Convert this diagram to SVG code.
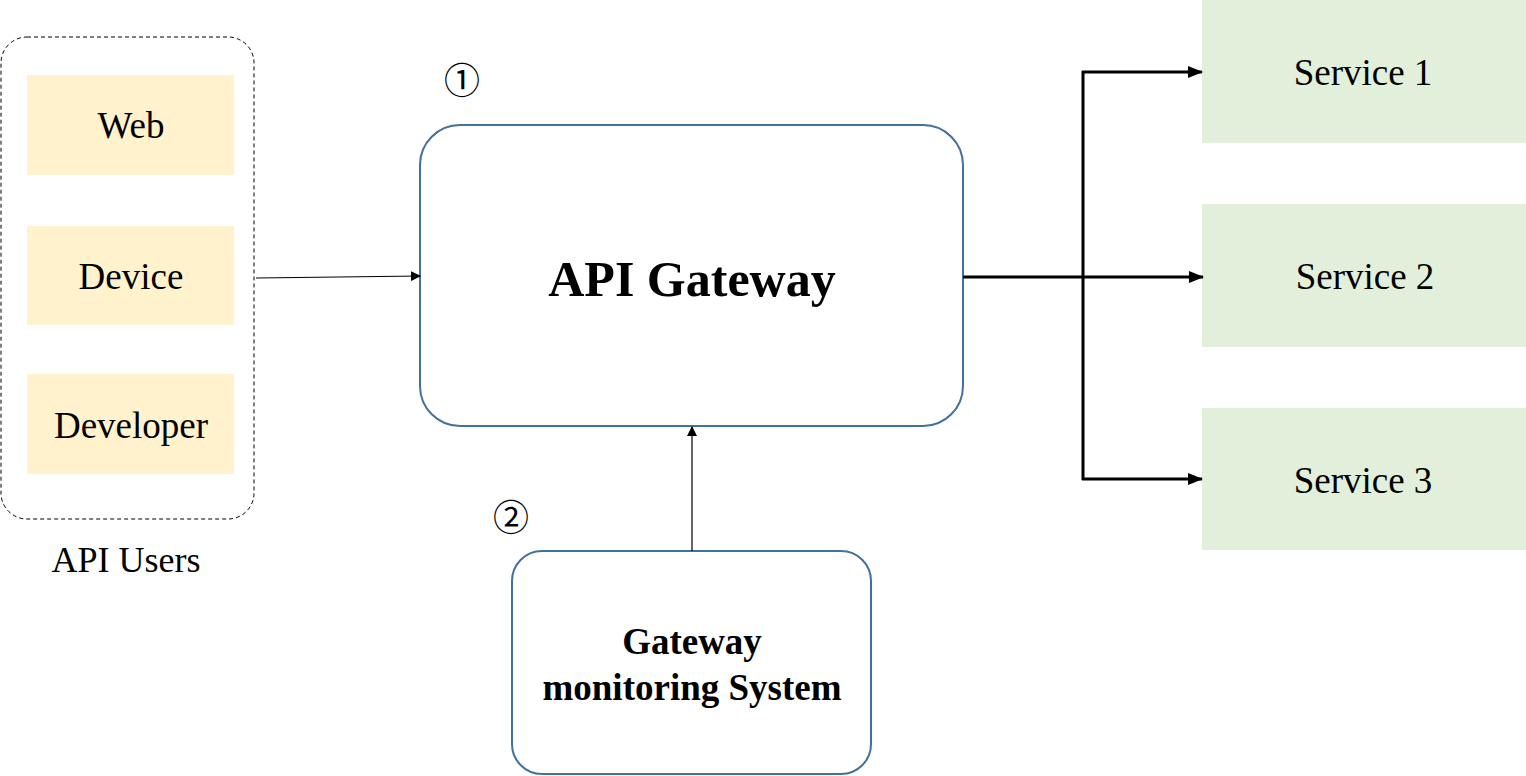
<svg xmlns="http://www.w3.org/2000/svg" width="1526" height="776" viewBox="0 0 1526 776">
<style>
.user{fill:#FFF2CC}
.svc{fill:#E2EFDA}
.rb{fill:#fff;stroke:#41719C;stroke-width:2}
.t{font-family:"Liberation Serif","Times New Roman",serif;fill:#000;text-anchor:middle;dominant-baseline:central}
.n{font-family:"Noto Sans CJK JP","DejaVu Sans",sans-serif;fill:#000;text-anchor:middle;dominant-baseline:central;font-size:36px}
.c1{stroke:#000;stroke-width:1.2;fill:none}
.c3{stroke:#000;stroke-width:3;fill:none}
</style>
<defs>
<marker id="ah" markerWidth="10" markerHeight="10" refX="9" refY="5" orient="auto" markerUnits="userSpaceOnUse">
<path d="M0,0 L10,5 L0,10 z" fill="#000"/>
</marker>
<marker id="ah2" markerWidth="15" markerHeight="12" refX="14" refY="6" orient="auto" markerUnits="userSpaceOnUse">
<path d="M0,0 L15,6 L0,12 z" fill="#000"/>
</marker>
</defs>
<rect width="1526" height="776" fill="#fff"/>
<g id="api-users">
<rect x="1" y="37" width="253" height="482" rx="26" fill="none" stroke="#000" stroke-width="1" stroke-dasharray="4,3"/>
<text class="t" x="126" y="560" font-size="36">API Users</text>
</g>
<g id="web"><rect class="user" x="27" y="75" width="207" height="100"/><text class="t" x="131" y="125" font-size="37">Web</text></g>
<g id="device"><rect class="user" x="27" y="226" width="207" height="99"/><text class="t" x="131" y="276" font-size="37">Device</text></g>
<g id="developer"><rect class="user" x="27" y="374" width="207" height="100"/><text class="t" x="131" y="425" font-size="37">Developer</text></g>
<g id="gateway">
<rect class="rb" x="420" y="125" width="543" height="301" rx="40"/>
<text class="t" x="692" y="279" font-size="50" font-weight="bold">API Gateway</text>
</g>
<g id="monitor">
<rect class="rb" x="512" y="551" width="359" height="223" rx="30"/>
<text class="t" x="692" y="641" font-size="37" font-weight="bold">Gateway</text>
<text class="t" x="692" y="687" font-size="37" font-weight="bold">monitoring System</text>
</g>
<g id="label1"><text class="n" x="462" y="78">①</text></g>
<g id="label2"><text class="n" x="511" y="515">②</text></g>
<g id="service1"><rect class="svc" x="1202" y="0" width="324" height="143"/><text class="t" x="1363" y="72" font-size="37">Service 1</text></g>
<g id="service2"><rect class="svc" x="1202" y="204" width="324" height="143"/><text class="t" x="1365" y="276" font-size="37">Service 2</text></g>
<g id="service3"><rect class="svc" x="1202" y="408" width="324" height="142"/><text class="t" x="1363" y="480" font-size="37">Service 3</text></g>
<g id="connectors">
<line class="c1" x1="256" y1="278" x2="420" y2="276" marker-end="url(#ah)"/>
<line class="c1" x1="692" y1="551" x2="692" y2="427" marker-end="url(#ah)"/>
<line class="c3" x1="963" y1="277" x2="1083" y2="277"/>
<line class="c3" x1="1083" y1="71" x2="1083" y2="480"/>
<line class="c3" x1="1082" y1="72" x2="1202" y2="72" marker-end="url(#ah2)"/>
<line class="c3" x1="1083" y1="277" x2="1203" y2="277" marker-end="url(#ah2)"/>
<line class="c3" x1="1082" y1="479" x2="1202" y2="479" marker-end="url(#ah2)"/>
</g>
</svg>
